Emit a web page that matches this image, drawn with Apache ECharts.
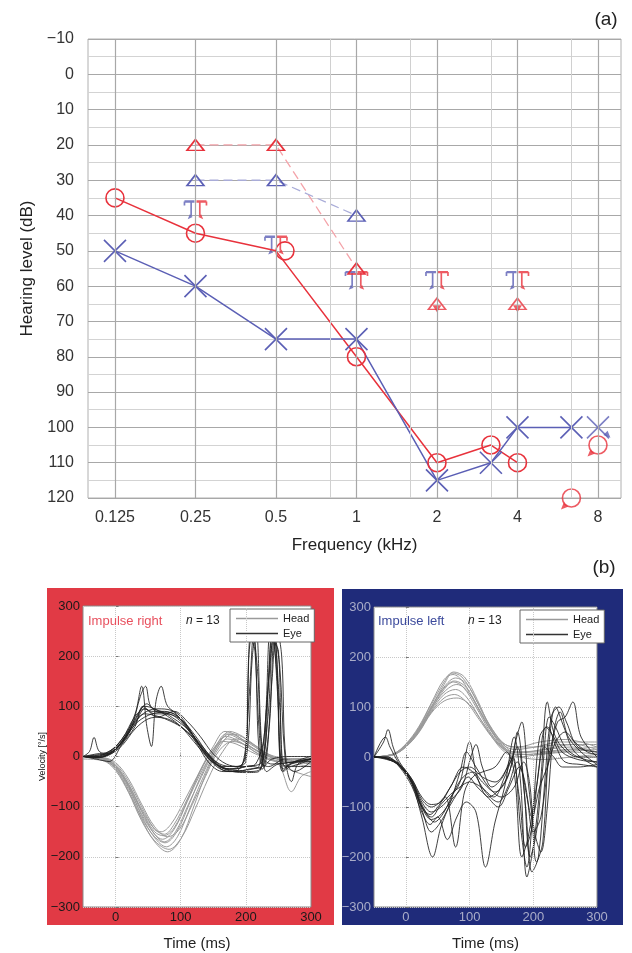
<!DOCTYPE html>
<html>
<head>
<meta charset="utf-8">
<script src="https://cdn.jsdelivr.net/npm/echarts@6/dist/echarts.min.js"></script>
<style>
  html, body { margin: 0; padding: 0; background: #fff; }
  #chart { width: 632px; height: 953px; }
</style>
</head>
<body>
<div id="chart"></div>
<script>
// ---- (a) audiogram ----
var freqTicks = [0.125, 0.25, 0.5, 1, 2, 4, 8];
var freqTickLabels = ['0.125', '0.25', '0.5', '1', '2', '4', '8'];
var freqMinor = [0.75, 1.5, 3, 6];

var rightAirFreq = [0.125, 0.25, 0.5, 1, 2, 3, 4];
var rightAirDb = [35, 45, 50, 80, 110, 105, 110];
var rightAirNrFreq = [6, 8];
var rightAirNrDb = [120, 105];
var leftAirFreq = [0.125, 0.25, 0.5, 1, 2, 3, 4, 6];
var leftAirDb = [50, 60, 75, 75, 115, 110, 100, 100];
var leftAirNrFreq = [8];
var leftAirNrDb = [100];
var rightTriFreq = [0.25, 0.5, 1];
var rightTriDb = [20, 20, 55];
var rightTriNrFreq = [2, 4];
var rightTriNrDb = [65, 65];
var leftTriFreq = [0.25, 0.5, 1];
var leftTriDb = [30, 30, 40];
var boneFreq = [0.25, 0.5, 1, 2, 4];
var boneDb = [38, 48, 58, 58, 58];

// ---- (b) head impulse traces, [time ms, velocity deg/s] ----
var rightHead = [
  [[-50,0],[-20,-3],[0,-18],[20,-55],[40,-105],[60,-145],[75,-155],[90,-135],[110,-85],[130,-30],[150,15],[170,40],[190,30],[220,5],[260,-10],[300,-10]],
  [[-50,0],[-20,-5],[0,-22],[20,-62],[40,-115],[60,-155],[72,-165],[90,-145],[110,-90],[130,-35],[150,10],[170,45],[190,35],[220,10],[260,-8],[300,-12]],
  [[-50,0],[-20,-4],[0,-20],[20,-60],[40,-118],[60,-162],[78,-180],[95,-160],[115,-100],[135,-40],[155,15],[175,50],[195,40],[225,10],[260,-5],[300,-15]],
  [[-50,0],[-20,-6],[0,-25],[20,-70],[40,-125],[60,-170],[80,-190],[100,-165],[120,-100],[140,-30],[160,20],[180,45],[200,35],[230,8],[260,-10],[300,-20]],
  [[-50,0],[-20,-2],[0,-15],[20,-50],[40,-100],[60,-145],[70,-150],[85,-135],[105,-90],[125,-40],[145,5],[165,30],[185,25],[215,5],[250,-10],[300,-8]],
  [[-50,0],[-20,-3],[0,-20],[20,-58],[40,-110],[60,-155],[75,-170],[92,-150],[112,-95],[132,-40],[152,10],[172,35],[195,25],[225,0],[250,-15],[270,-70],[285,-40],[300,-30]],
  [[-50,0],[-20,-5],[0,-24],[20,-66],[40,-122],[60,-160],[76,-172],[94,-150],[114,-92],[134,-30],[155,20],[175,45],[200,30],[230,5],[265,-25],[300,-40]],
  [[-50,0],[-20,-2],[0,-12],[20,-45],[40,-95],[60,-140],[80,-160],[98,-145],[118,-95],[138,-40],[158,10],[180,30],[205,20],[235,0],[270,-10],[300,-5]],
  [[-50,-5],[-20,-8],[0,-28],[20,-72],[40,-128],[60,-168],[82,-185],[102,-160],[122,-105],[142,-45],[162,5],[185,35],[210,25],[240,0],[270,-12],[300,-10]],
  [[-50,0],[-20,-4],[0,-18],[20,-56],[40,-108],[60,-150],[74,-158],[90,-142],[110,-88],[130,-28],[150,20],[168,50],[188,40],[215,12],[250,-5],[300,-15]]
];
var rightEye = [
  [[-50,0],[-40,10],[-33,38],[-25,10],[-10,5],[10,30],[30,65],[45,95],[60,85],[80,85],[100,70],[120,40],[140,5],[160,-15],[180,-20],[195,-15],[205,120],[212,250],[220,60],[228,-20],[240,-5],[270,0],[300,0]],
  [[-50,0],[-30,-5],[-10,-10],[10,25],[30,60],[42,100],[55,90],[75,90],[95,80],[115,50],[135,10],[155,-20],[175,-30],[190,-25],[200,10],[207,240],[214,210],[222,-10],[235,-20],[260,-5],[300,-5]],
  [[-50,0],[-30,0],[-10,5],[10,30],[30,85],[40,140],[48,60],[55,20],[62,110],[70,140],[80,100],[100,80],[120,40],[140,0],[160,-20],[180,-25],[200,-20],[225,-10],[235,150],[243,250],[252,100],[260,-20],[275,-10],[300,-5]],
  [[-50,0],[-30,2],[-10,8],[10,35],[30,75],[45,100],[60,95],[80,80],[100,60],[120,30],[140,0],[160,-20],[180,-25],[200,-20],[215,-15],[228,40],[238,255],[246,220],[254,-10],[265,-20],[300,-5]],
  [[-50,0],[-30,-3],[-10,5],[10,28],[30,70],[48,90],[65,95],[85,92],[105,65],[125,25],[145,-15],[165,-30],[185,-30],[205,-25],[220,-20],[232,100],[240,245],[248,160],[256,-30],[270,-15],[300,-5]],
  [[-50,0],[-30,0],[-10,10],[10,32],[30,68],[45,85],[65,80],[85,70],[105,55],[125,30],[145,0],[165,-20],[185,-20],[200,-10],[210,200],[216,250],[224,30],[232,-30],[250,-15],[300,-10]],
  [[-50,0],[-30,-2],[-10,3],[10,22],[30,55],[50,75],[70,80],[90,90],[110,70],[130,40],[150,5],[170,-15],[190,-20],[210,-20],[225,-25],[236,60],[244,240],[252,180],[260,0],[270,-50],[280,-15],[300,-5]],
  [[-50,0],[-30,3],[-10,7],[10,30],[30,72],[48,105],[62,90],[82,85],[102,72],[122,42],[142,5],[162,-25],[182,-30],[202,-30],[222,-25],[233,120],[241,255],[249,120],[257,-25],[275,-10],[300,0]],
  [[-50,0],[-30,0],[-10,6],[10,28],[25,60],[38,120],[46,140],[54,100],[70,90],[90,85],[110,60],[130,20],[150,-10],[170,-25],[190,-20],[200,0],[204,190],[210,250],[218,170],[226,0],[240,-15],[300,-5]],
  [[-50,0],[-30,-2],[-10,4],[10,26],[30,64],[50,82],[70,88],[90,75],[110,55],[130,25],[150,-5],[170,-25],[190,-28],[210,-25],[228,-15],[240,150],[247,260],[255,200],[262,-10],[275,-30],[300,-10]],
  [[-50,0],[-30,5],[-10,10],[10,35],[30,80],[45,95],[60,80],[80,75],[100,60],[120,35],[140,5],[160,-20],[180,-30],[200,-32],[220,-30],[234,80],[242,230],[250,210],[258,-30],[270,-20],[300,-20]]
];
var leftHead = [
  [[-50,0],[-20,5],[0,22],[20,52],[40,95],[60,135],[75,150],[90,140],[110,100],[130,55],[150,20],[170,5],[200,5],[240,10],[300,15]],
  [[-50,0],[-20,6],[0,25],[20,58],[40,105],[60,150],[72,168],[88,160],[108,120],[128,70],[150,30],[170,10],[200,10],[250,15],[300,20]],
  [[-50,0],[-20,4],[0,20],[20,50],[40,92],[60,125],[78,135],[95,120],[115,80],[135,40],[155,10],[175,0],[210,5],[260,10],[300,5]],
  [[-50,0],[-20,6],[0,24],[20,56],[40,100],[60,145],[75,170],[92,160],[112,115],[132,60],[152,25],[172,15],[205,20],[250,25],[300,25]],
  [[-50,0],[-20,5],[0,21],[20,50],[40,90],[60,118],[76,125],[95,110],[115,75],[135,40],[155,15],[180,10],[220,15],[260,20],[300,10]],
  [[-50,0],[-20,5],[0,23],[20,54],[40,98],[60,140],[78,158],[96,145],[116,100],[136,55],[156,25],[176,20],[210,30],[250,35],[300,20]],
  [[-50,0],[-20,4],[0,22],[20,53],[40,96],[60,130],[80,145],[98,130],[118,88],[138,45],[158,15],[180,0],[215,-5],[260,0],[300,5]],
  [[-50,0],[-20,6],[0,26],[20,60],[40,108],[60,155],[74,165],[90,150],[110,105],[130,60],[150,30],[170,20],[200,20],[240,30],[300,30]],
  [[-50,0],[-20,5],[0,20],[20,48],[40,88],[60,112],[80,118],[100,105],[120,70],[140,35],[160,10],[185,5],[225,10],[270,15],[300,10]],
  [[-50,0],[-20,5],[0,24],[20,55],[40,100],[60,138],[76,152],[94,140],[114,98],[134,52],[154,18],[178,8],[215,15],[265,25],[300,15]]
];
var leftEye = [
  [[-50,0],[-35,30],[-28,55],[-20,20],[-10,-10],[10,-45],[25,-80],[40,-95],[55,-90],[70,-60],[85,-30],[100,-20],[120,-40],[140,-50],[160,-20],[175,20],[185,-60],[195,-200],[205,-150],[215,-20],[225,80],[235,60],[250,20],[270,0],[300,-10]],
  [[-50,0],[-30,-5],[-10,-15],[10,-55],[25,-120],[42,-200],[55,-140],[70,-90],[85,-30],[95,10],[110,-20],[130,-60],[150,-80],[170,-60],[185,-10],[195,-60],[205,-210],[215,-170],[225,30],[235,100],[248,60],[265,10],[300,-20]],
  [[-50,0],[-30,0],[-10,-20],[10,-60],[25,-110],[38,-135],[50,-120],[65,-165],[80,-120],[95,-90],[110,-110],[125,-220],[140,-130],[155,-60],[170,40],[180,-50],[190,-240],[200,-180],[212,-40],[222,110],[232,50],[245,20],[270,0],[300,0]],
  [[-50,0],[-30,-3],[-10,-18],[10,-50],[25,-90],[40,-110],[55,-100],[70,-80],[85,-50],[100,30],[112,-40],[130,-80],[150,-60],[165,-20],[175,50],[188,-100],[198,-230],[208,-200],[218,-50],[228,80],[240,100],[252,70],[270,20],[300,10]],
  [[-50,0],[-30,-2],[-10,-16],[10,-48],[25,-95],[45,-130],[60,-110],[75,-70],[90,-40],[105,-30],[120,-50],[140,-70],[160,-40],[172,30],[182,70],[192,-50],[202,-150],[212,-190],[222,-100],[232,50],[242,90],[255,40],[275,10],[300,-15]],
  [[-50,0],[-32,40],[-25,20],[-10,-15],[10,-52],[25,-100],[40,-120],[55,-95],[70,-75],[85,-60],[100,-50],[118,-60],[138,-80],[155,-40],[168,0],[180,-140],[190,-220],[200,-100],[210,40],[222,60],[236,20],[250,-10],[275,-15],[300,-20]],
  [[-50,0],[-30,-4],[-10,-18],[10,-55],[25,-105],[40,-150],[52,-135],[68,-100],[82,-70],[98,-40],[112,-60],[128,-80],[145,-100],[162,-60],[178,-20],[190,-80],[200,-150],[212,-120],[225,0],[238,70],[250,80],[262,110],[275,40],[300,0]],
  [[-50,0],[-30,-2],[-10,-14],[10,-46],[25,-85],[40,-100],[55,-88],[70,-60],[90,-20],[105,-30],[125,-70],[145,-90],[160,-60],[175,-10],[185,-40],[198,-120],[210,-60],[222,-20],[235,30],[250,50],[265,30],[285,10],[300,5]],
  [[-50,0],[-30,0],[-10,-16],[10,-50],[25,-98],[38,-115],[50,-100],[62,-80],[78,-180],[92,-70],[105,-40],[120,-30],[140,-20],[158,10],[170,-30],[182,-200],[192,-160],[205,-60],[218,20],[232,0],[246,-20],[270,-20],[300,-15]],
  [[-50,0],[-30,-3],[-10,-17],[10,-52],[25,-100],[40,-125],[55,-115],[72,-85],[88,-60],[102,0],[110,25],[120,-20],[135,-60],[152,-40],[166,0],[178,-80],[188,-180],[198,-140],[208,-30],[220,60],[232,40],[245,10],[270,-5],[300,-10]]
];
var timeTicks = [0, 100, 200, 300];
var velGrid = [0, 100, 200];

var RED = '#e8323c', BLUE = '#5b5fb5';
var HEAD = '#9a9a9a', EYE = 'rgba(30,30,30,0.85)';
var FONT = 'Liberation Sans, Arial, sans-serif';
var NOFILL = 'rgba(0,0,0,0)';

// audiogram x position in octaves re 1 kHz; the 0.75/1.5/3/6 kHz lines sit ~2/3 along the octave here
function fx(f) {
  var o = Math.floor(Math.log2(f) + 1e-9);
  return f / Math.pow(2, o) > 1.01 ? o + 0.67 : o;
}
function pts(fs, ds) {
  return fs.map(function (f, i) { return [fx(f), ds[i]]; });
}
function minus(v) { return v < 0 ? '\u2212' + Math.abs(v) : String(v); }

var xPath = 'path://M0,0L20,20M20,0L0,20';
var boneLeftPath = 'path://M0,0H12M8,0V14M0,0V4';
var boneRightPath = 'path://M0,0H12M4,0V14M12,0V4';

var series = [];

// audiogram vertical grid lines
series.push({
  type: 'line', xAxisIndex: 0, yAxisIndex: 0, data: [], z: 1, silent: true,
  markLine: {
    silent: true, symbol: 'none', animation: false, label: { show: false },
    data: freqTicks.map(function (f) {
      return { xAxis: fx(f), lineStyle: { color: '#a8a8a8', width: 1.2, type: 'solid' } };
    }).concat(freqMinor.map(function (f) {
      return { xAxis: fx(f), lineStyle: { color: '#d0d0d0', width: 1, type: 'solid' } };
    }))
  }
});

// dashed triangle lines
series.push({
  type: 'line', xAxisIndex: 0, yAxisIndex: 0, data: pts(rightTriFreq, rightTriDb),
  symbol: 'triangle', symbolSize: [17, 11],
  lineStyle: { color: '#f4a3a9', width: 1.3, type: [9, 5] },
  itemStyle: { color: NOFILL, borderColor: RED, borderWidth: 1.6 }
});
series.push({
  type: 'line', xAxisIndex: 0, yAxisIndex: 0, data: pts(leftTriFreq, leftTriDb),
  symbol: 'triangle', symbolSize: [17, 11],
  lineStyle: { color: '#a9acd8', width: 1.3, type: [9, 5] },
  itemStyle: { color: NOFILL, borderColor: BLUE, borderWidth: 1.6 }
});

// air conduction
var rAir = pts(rightAirFreq, rightAirDb).map(function (p, i) {
  return rightAirFreq[i] === 0.5 ? { value: p, symbolOffset: [9, 0] } : p;
});
series.push({
  type: 'line', xAxisIndex: 0, yAxisIndex: 0, data: rAir,
  symbol: 'circle', symbolSize: 18,
  lineStyle: { color: RED, width: 1.5 },
  itemStyle: { color: NOFILL, borderColor: RED, borderWidth: 1.6 }
});
series.push({
  type: 'line', xAxisIndex: 0, yAxisIndex: 0, data: pts(leftAirFreq, leftAirDb),
  symbol: xPath, symbolSize: 22,
  lineStyle: { color: BLUE, width: 1.5 },
  itemStyle: { color: NOFILL, borderColor: BLUE, borderWidth: 1.6 }
});
// no response
series.push({
  type: 'scatter', xAxisIndex: 0, yAxisIndex: 0, data: pts(rightAirNrFreq, rightAirNrDb),
  symbol: 'circle', symbolSize: 18,
  itemStyle: { color: NOFILL, borderColor: RED, borderWidth: 1.6 }
});
series.push({
  type: 'scatter', xAxisIndex: 0, yAxisIndex: 0, data: pts(leftAirNrFreq, leftAirNrDb),
  symbol: xPath, symbolSize: 22,
  itemStyle: { color: NOFILL, borderColor: BLUE, borderWidth: 1.6 }
});
series.push({
  type: 'scatter', xAxisIndex: 0, yAxisIndex: 0, data: pts(rightTriNrFreq, rightTriNrDb),
  symbol: 'triangle', symbolSize: [17, 11],
  itemStyle: { color: NOFILL, borderColor: RED, borderWidth: 1.6 }
});
// small arrows marking no response
series.push({
  type: 'scatter', xAxisIndex: 0, yAxisIndex: 0, symbol: 'triangle', symbolSize: [6, 7],
  itemStyle: { color: RED },
  data: pts(rightAirNrFreq, rightAirNrDb).map(function (p) {
    return { value: p, symbolOffset: [-8, 9], symbolRotate: 135 };
  }).concat(pts(rightTriNrFreq, rightTriNrDb).map(function (p) {
    return { value: p, symbolOffset: [0, 5], symbolRotate: 180, symbolSize: [9, 7] };
  }))
});
series.push({
  type: 'scatter', xAxisIndex: 0, yAxisIndex: 0, symbol: 'triangle', symbolSize: [6, 7],
  itemStyle: { color: BLUE },
  data: pts(leftAirNrFreq, leftAirNrDb).map(function (p) {
    return { value: p, symbolOffset: [10, 8], symbolRotate: 225 };
  })
});
// masked bone conduction
series.push({
  type: 'scatter', xAxisIndex: 0, yAxisIndex: 0, data: pts(boneFreq, boneDb),
  symbol: boneLeftPath, symbolSize: [10, 14], symbolOffset: [-6, 0],
  itemStyle: { color: NOFILL, borderColor: BLUE, borderWidth: 2 }
});
series.push({
  type: 'scatter', xAxisIndex: 0, yAxisIndex: 0, data: pts(boneFreq, boneDb),
  symbol: boneRightPath, symbolSize: [10, 14], symbolOffset: [6, 0],
  itemStyle: { color: NOFILL, borderColor: RED, borderWidth: 2 }
});
series.push({
  type: 'scatter', xAxisIndex: 0, yAxisIndex: 0, data: pts(boneFreq, boneDb),
  symbol: 'triangle', symbolSize: [4, 5], symbolOffset: [-6, 9], symbolRotate: 135,
  itemStyle: { color: BLUE }
});
series.push({
  type: 'scatter', xAxisIndex: 0, yAxisIndex: 0, data: pts(boneFreq, boneDb),
  symbol: 'triangle', symbolSize: [4, 5], symbolOffset: [6, 9], symbolRotate: 225,
  itemStyle: { color: RED }
});

// velocity panels
function traces(list, name, idx, color, z) {
  return list.map(function (d) {
    return {
      type: 'line', name: name, xAxisIndex: idx, yAxisIndex: idx, data: d,
      smooth: 0.35, symbol: 'none', silent: true, z: z,
      itemStyle: { color: color },
      lineStyle: { color: color, width: 1 }
    };
  });
}
[1, 2].forEach(function (idx) {
  series.push({
    type: 'line', xAxisIndex: idx, yAxisIndex: idx, data: [], z: 1, silent: true,
    markLine: {
      silent: true, symbol: 'none', animation: false, label: { show: false },
      lineStyle: { color: '#c8c8c8', width: 1, type: 'dotted' },
      data: velGrid.map(function (t) { return { xAxis: t }; })
    }
  });
});
series = series
  .concat(traces(rightHead, 'Head', 1, HEAD, 2))
  .concat(traces(rightEye, 'Eye', 1, EYE, 3))
  .concat(traces(leftHead, 'Head', 2, HEAD, 2))
  .concat(traces(leftEye, 'Eye', 2, EYE, 3));

function velX(idx, color) {
  return {
    type: 'value', gridIndex: idx, min: -50, max: 300,
    axisLine: { show: false }, splitLine: { show: false },
    axisTick: { show: true, inside: true, length: 3, customValues: velGrid, lineStyle: { color: '#777' } },
    axisLabel: { customValues: timeTicks, fontSize: 13, color: color, margin: 4, fontFamily: FONT },
    name: 'Time (ms)', nameLocation: 'middle', nameGap: 29,
    nameTextStyle: { fontSize: 15, color: '#222', fontFamily: FONT }
  };
}
function velY(idx, color, name) {
  return {
    type: 'value', gridIndex: idx, min: -300, max: 300, interval: 100,
    axisLine: { show: false },
    axisTick: { show: true, inside: true, length: 3, lineStyle: { color: '#777' } },
    axisLabel: { fontSize: 13, color: color, margin: 3, fontFamily: FONT, formatter: minus },
    splitLine: { lineStyle: { color: '#c8c8c8', type: 'dotted' } },
    name: name, nameLocation: 'middle', nameGap: 34,
    nameTextStyle: { fontSize: 9, color: '#111', fontFamily: FONT }
  };
}
function legendAt(left, top) {
  return {
    left: left, top: top, orient: 'vertical', selectedMode: false,
    data: [
      { name: 'Head', icon: 'rect', itemStyle: { color: HEAD } },
      { name: 'Eye', icon: 'rect', itemStyle: { color: '#333' } }
    ],
    backgroundColor: '#fff', borderColor: '#666', borderWidth: 1, borderRadius: 0,
    padding: [4, 5, 3, 6], itemGap: 4, itemWidth: 42, itemHeight: 1.3,
    textStyle: { fontSize: 11, color: '#222', fontFamily: FONT }
  };
}

var chart = echarts.init(document.getElementById('chart'));
chart.setOption({
  animation: false,
  backgroundColor: '#fff',
  textStyle: { fontFamily: FONT },
  grid: [
    { left: 88, top: 39, width: 533, height: 459, show: true, borderColor: '#b0b0b0', borderWidth: 1 },
    { left: 83, top: 606, width: 228, height: 301, show: true, backgroundColor: '#fff', borderColor: '#8a8a8a', borderWidth: 1 },
    { left: 374, top: 607, width: 223, height: 300, show: true, backgroundColor: '#fff', borderColor: '#8a8a8a', borderWidth: 1 }
  ],
  xAxis: [
    {
      type: 'value', gridIndex: 0, min: -3.335, max: 3.286,
      axisLine: { show: false }, axisTick: { show: false }, splitLine: { show: false },
      axisLabel: {
        customValues: freqTicks.map(fx), fontSize: 16, color: '#333', margin: 12, fontFamily: FONT,
        formatter: function (v) { return freqTickLabels[Math.round(v) + 3]; }
      },
      name: 'Frequency (kHz)', nameLocation: 'middle', nameGap: 39,
      nameTextStyle: { fontSize: 17, color: '#222', fontFamily: FONT }
    },
    velX(1, '#1a1a1a'),
    velX(2, '#a9acc8')
  ],
  yAxis: [
    {
      type: 'value', gridIndex: 0, inverse: true, min: -10, max: 120, interval: 10,
      axisLine: { show: false }, axisTick: { show: false },
      axisLabel: { fontSize: 16, color: '#333', margin: 14, fontFamily: FONT, formatter: minus },
      splitLine: { lineStyle: { color: '#a8a8a8', width: 1.2 } },
      minorTick: { show: false, splitNumber: 2 },
      minorSplitLine: { show: true, lineStyle: { color: '#d3d3d3', width: 1 } },
      name: 'Hearing level (dB)', nameLocation: 'middle', nameGap: 50,
      nameTextStyle: { fontSize: 17, color: '#222', fontFamily: FONT }
    },
    velY(1, '#1a1a1a', 'Velocity [\u00b0/s]'),
    velY(2, '#a9acc8', '')
  ],
  legend: [legendAt(230, 609), legendAt(520, 610)],
  graphic: [
    { type: 'rect', z: -10, shape: { x: 47, y: 588, width: 287, height: 337 }, style: { fill: '#e13a45' } },
    { type: 'rect', z: -10, shape: { x: 342, y: 589, width: 281, height: 336 }, style: { fill: '#1f2b7a' } },
    { type: 'text', x: 606, y: 20, style: { text: '(a)', font: '19px ' + FONT, fill: '#222', align: 'center', verticalAlign: 'middle' } },
    { type: 'text', x: 604, y: 568, style: { text: '(b)', font: '19px ' + FONT, fill: '#222', align: 'center', verticalAlign: 'middle' } },
    { type: 'text', x: 88, y: 621, z: 10, style: { text: 'Impulse right', font: '13px ' + FONT, fill: '#e8505e', verticalAlign: 'middle' } },
    { type: 'text', x: 378, y: 621, z: 10, style: { text: 'Impulse left', font: '13px ' + FONT, fill: '#3c4a9c', verticalAlign: 'middle' } },
    {
      type: 'text', x: 186, y: 621, z: 10,
      style: { text: '{i|n} = 13', font: '12px ' + FONT, fill: '#222', verticalAlign: 'middle',
        rich: { i: { fontStyle: 'italic', fontSize: 12, fontFamily: FONT } } }
    },
    {
      type: 'text', x: 468, y: 621, z: 10,
      style: { text: '{i|n} = 13', font: '12px ' + FONT, fill: '#222', verticalAlign: 'middle',
        rich: { i: { fontStyle: 'italic', fontSize: 12, fontFamily: FONT } } }
    }
  ],
  series: series
});
</script>
</body>
</html>
